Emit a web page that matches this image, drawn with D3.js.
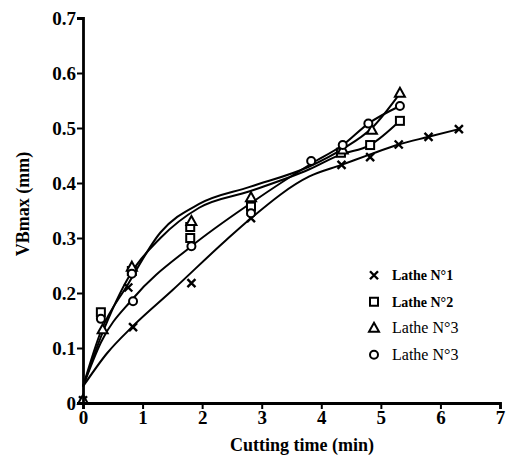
<!DOCTYPE html>
<html>
<head>
<meta charset="utf-8">
<script src="https://cdn.jsdelivr.net/npm/d3@7"></script>
<style>
  body { margin: 0; background: #fff; }
  svg { display: block; }
</style>
</head>
<body>
<div id="chart"></div>
<script>
// tick labels
const xTicks = [0, 1, 2, 3, 4, 5, 6, 7];
const yTicks = [0, 0.1, 0.2, 0.3, 0.4, 0.5, 0.6, 0.7];

// measured points (time, VBmax)
const lathe1Pts = [[0, 0.005], [0.76, 0.21], [0.84, 0.138], [1.82, 0.218], [2.82, 0.336], [4.34, 0.433], [4.82, 0.447], [5.3, 0.47], [5.8, 0.484], [6.31, 0.498]];
const lathe2Pts = [[0.3, 0.165], [0.82, 0.24], [1.8, 0.32], [1.8, 0.3], [2.82, 0.357], [4.33, 0.455], [4.82, 0.469], [5.32, 0.513]];
const lathe3Pts = [[0, 0.005], [0.33, 0.133], [0.82, 0.247], [1.82, 0.33], [2.82, 0.373], [4.36, 0.46], [4.85, 0.496], [5.32, 0.563]];
const lathe4Pts = [[0.3, 0.153], [0.82, 0.235], [0.84, 0.185], [1.82, 0.285], [2.82, 0.345], [3.83, 0.44], [4.36, 0.469], [4.79, 0.508], [5.32, 0.54]];

// fitted curves drawn through the points
const lathe1Fit = [[0, 0.03], [0.4, 0.09], [0.84, 0.14], [1.5, 0.205], [2.4, 0.296], [2.82, 0.336], [3.8, 0.412], [4.34, 0.433], [4.82, 0.452], [5.3, 0.47], [5.8, 0.484], [6.31, 0.498]];
const lathe2Fit = [[0, 0.03], [0.3, 0.12], [0.8, 0.235], [1.3, 0.3], [1.95, 0.355], [2.8, 0.385], [3.8, 0.425], [4.33, 0.452], [4.82, 0.469], [5.32, 0.513]];
const lathe3Fit = [[0, 0.03], [0.3, 0.13], [0.75, 0.215], [1.3, 0.31], [1.95, 0.362], [2.8, 0.393], [3.8, 0.43], [4.36, 0.462], [4.85, 0.5], [5.32, 0.563]];
const lathe4Fit = [[0, 0.03], [0.3, 0.11], [0.84, 0.19], [1.82, 0.285], [2.84, 0.365], [3.83, 0.435], [4.36, 0.469], [4.79, 0.508], [5.32, 0.54]];

const seriesNames = ['Lathe N°1', 'Lathe N°2', 'Lathe N°3', 'Lathe N°3'];
const seriesSymbols = ['cross', 'square', 'triangle', 'circle'];

const series = [
  { name: seriesNames[0], sym: seriesSymbols[0], pts: lathe1Pts, fit: lathe1Fit },
  { name: seriesNames[1], sym: seriesSymbols[1], pts: lathe2Pts, fit: lathe2Fit },
  { name: seriesNames[2], sym: seriesSymbols[2], pts: lathe3Pts, fit: lathe3Fit },
  { name: seriesNames[3], sym: seriesSymbols[3], pts: lathe4Pts, fit: lathe4Fit }
];

const W = 508, H = 462;
const margin = { top: 18, right: 8, bottom: 59, left: 83 };
const serif = 'Liberation Serif';

const svg = d3.select('#chart').append('svg').attr('width', W).attr('height', H);

const x = d3.scaleLinear().domain([0, 7]).range([margin.left, W - margin.right]);
const y = d3.scaleLinear().domain([0, 0.7]).range([H - margin.bottom, margin.top]);

// draw a marker symbol at px,py
function drawMarker(g, sym, px, py) {
  if (sym === 'cross') {
    const r = 4;
    g.append('path')
      .attr('d', `M${px - r},${py - r}L${px + r},${py + r}M${px - r},${py + r}L${px + r},${py - r}`)
      .attr('stroke', '#000').attr('stroke-width', 2.4).attr('fill', 'none');
  } else if (sym === 'square') {
    g.append('rect').attr('x', px - 4).attr('y', py - 4).attr('width', 8).attr('height', 8)
      .attr('fill', '#fff').attr('stroke', '#000').attr('stroke-width', 2);
  } else if (sym === 'triangle') {
    g.append('path')
      .attr('d', `M${px},${py - 5.5}L${px + 5},${py + 3.5}L${px - 5},${py + 3.5}Z`)
      .attr('fill', '#fff').attr('stroke', '#000').attr('stroke-width', 2);
  } else {
    g.append('circle').attr('cx', px).attr('cy', py).attr('r', 4)
      .attr('fill', '#fff').attr('stroke', '#000').attr('stroke-width', 2);
  }
}

// curves
const line = d3.line().x(d => x(d[0])).y(d => y(d[1])).curve(d3.curveMonotoneX);
const plot = svg.append('g');
series.forEach(s => {
  plot.append('path').datum(s.fit).attr('d', line)
    .attr('fill', 'none').attr('stroke', '#000').attr('stroke-width', 2);
});
series.forEach(s => {
  s.pts.forEach(p => drawMarker(plot, s.sym, x(p[0]), y(p[1])));
});

// axes
const xAxis = svg.append('g').attr('transform', `translate(0,${y(0)})`)
  .call(d3.axisBottom(x).tickValues(xTicks).tickFormat(d3.format('d')).tickSize(6).tickPadding(2));
const yAxis = svg.append('g').attr('transform', `translate(${x(0)},0)`)
  .call(d3.axisLeft(y).tickValues(yTicks).tickFormat(d => d === 0 ? '0' : d3.format('.1f')(d)).tickSize(6).tickPadding(1));

[xAxis, yAxis].forEach(a => {
  a.attr('font-family', serif);
  a.select('.domain').attr('stroke-width', 2.8).attr('stroke', '#000');
  a.selectAll('.tick line').attr('stroke-width', 2).attr('stroke', '#000');
  a.selectAll('text').style('font-family', serif)
    .attr('font-size', 19).attr('font-weight', 'bold').attr('fill', '#000');
});

// axis titles
svg.append('text').attr('x', 302).attr('y', 451).attr('text-anchor', 'middle')
  .style('font-family', serif).attr('font-size', 18).attr('font-weight', 'bold').text('Cutting time (min)');
svg.append('text').attr('transform', 'translate(29,204)rotate(-90)')
  .style('font-family', serif).attr('text-anchor', 'middle').attr('font-size', 18).attr('font-weight', 'bold').text('VBmax (mm)');

// legend
const legend = svg.append('g');
const legendY = d3.scaleBand().domain(d3.range(series.length)).range([262, 368]);
series.forEach((s, i) => {
  const cy = legendY(i) + legendY.bandwidth() / 2;
  drawMarker(legend, s.sym, 374, cy);
  legend.append('text').attr('x', 392).attr('y', cy + 5).style('font-family', serif)
    .attr('font-size', i < 2 ? 14 : 16).attr('font-weight', i < 2 ? 'bold' : 'normal').text(s.name);
});
</script>
</body>
</html>
